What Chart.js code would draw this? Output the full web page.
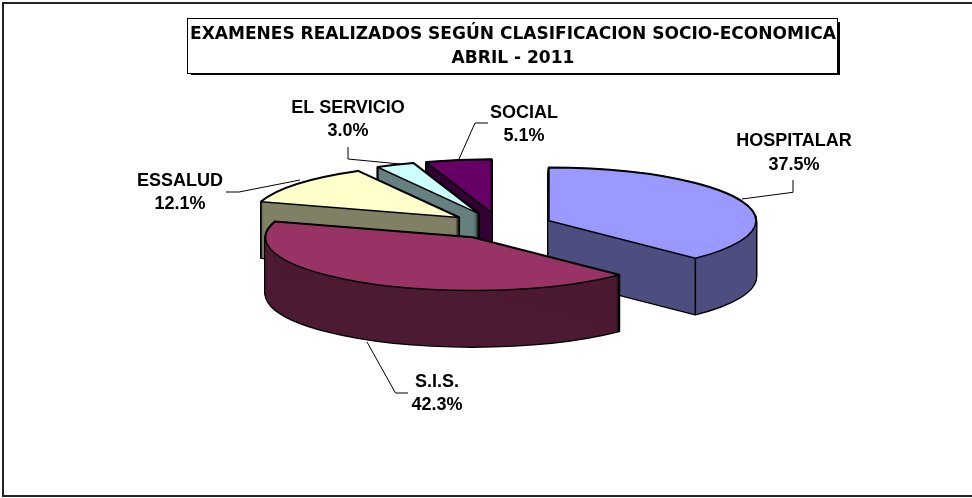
<!DOCTYPE html>
<html><head><meta charset="utf-8">
<style>html,body{margin:0;padding:0;background:#fff}#w{width:972px;height:498px;position:relative}canvas{display:block}</style>
<script src="https://cdn.jsdelivr.net/npm/chart.js@4"></script></head>
<body><div id="w"><canvas id="c" width="972" height="498"></canvas></div>
<script>
const categories = ['HOSPITALAR','S.I.S.','ESSALUD','EL SERVICIO','SOCIAL'];
const values = [37.5,42.3,12.1,3.0,5.1];
const topColors = ['#9999FF','#993366','#FFFFCC','#CCFFFF','#660066'];
const sideColors = ['#4D4D80','#4D1A33','#808066','#668080','#330033'];
const titleLines = ['EXAMENES REALIZADOS SEGÚN CLASIFICACION SOCIO-ECONOMICA','ABRIL - 2011'];
const drawOrder = [4,3,2,0,1];
const labelLayout = [
 {x:794,y:141.5,line:[[742,199],[793,192.3],[793,180]]},
 {x:437,y:382,line:[[367,342],[395.5,393],[408,393]]},
 {x:180,y:181,line:[[226,192],[239,192],[300,180]]},
 {x:348,y:108,line:[[348,147],[348,159],[400,164]]},
 {x:524,y:113,line:[[488,123],[475,123],[459,159]]}
];
const SQUASH=0.256, DEPTH=56.5, EXPLODE=53;
function place(ctx,arc,dy){
  const mid=(arc.startAngle+arc.endAngle)/2;
  ctx.translate(arc.x,arc.y+dy);
  ctx.scale(1,SQUASH);
  ctx.translate(-arc.x,-arc.y);
  ctx.translate(Math.cos(mid)*EXPLODE,Math.sin(mid)*EXPLODE);
}
function tracePath(ctx,arc,dy){
  ctx.save();place(ctx,arc,dy);
  ctx.beginPath();ctx.moveTo(arc.x,arc.y);
  ctx.arc(arc.x,arc.y,arc.outerRadius,arc.startAngle,arc.endAngle);
  ctx.closePath();ctx.restore();
}
function fillWith(ctx,arc,dy,color){
  const o=arc.options,t=Object.create(o);
  Object.defineProperty(t,'backgroundColor',{value:color});
  Object.defineProperty(t,'borderWidth',{value:0});
  arc.options=t;
  ctx.save();place(ctx,arc,dy);arc.draw(ctx);ctx.restore();
  arc.options=o;
}
const pie3d={id:'pie3d',
 beforeDraw(chart){
  const ctx=chart.ctx;
  ctx.save();
  ctx.fillStyle='#fff';ctx.fillRect(0,0,972,498);
  ctx.fillStyle='#222';
  ctx.fillRect(2,2,970,2);ctx.fillRect(2,2,2,495);ctx.fillRect(2,495,970,2);
  ctx.strokeStyle='#000';ctx.lineWidth=1;
  ctx.fillStyle='#000';ctx.fillRect(191,22,649,53);
  ctx.fillStyle='#fff';ctx.fillRect(187.5,18.5,650,55);
  ctx.strokeRect(187.5,18.5,650,55);
  ctx.fillStyle='#000';ctx.textAlign='center';ctx.textBaseline='middle';
  ctx.font='bold 17.5px "DejaVu Sans"';
  const w=ctx.measureText(titleLines[0]).width, sx=646/w;
  ctx.translate(513,0);ctx.scale(sx,1);
  ctx.fillText(titleLines[0],0,34);
  ctx.fillText(titleLines[1],0,58);
  ctx.restore();
 },
 beforeDatasetDraw(chart,args){
  const ctx=chart.ctx,arcs=args.meta.data;
  drawOrder.forEach(i=>{
   const arc=arcs[i];
   ctx.save();
   ctx.strokeStyle='#000';ctx.lineWidth=2.6;ctx.lineJoin='round';
   for(let d=0;d<=DEPTH;d+=1){tracePath(ctx,arc,d);ctx.stroke();}
   for(let d=0;d<=DEPTH;d+=1){fillWith(ctx,arc,d,sideColors[i]);}
   fillWith(ctx,arc,0,topColors[i]);
   ctx.lineWidth=1.5;tracePath(ctx,arc,0);ctx.stroke();
   const mid=(arc.startAngle+arc.endAngle)/2;
   [arc.startAngle,arc.endAngle].forEach(a=>{
    if(Math.sin(a)>0.01){
     const px=arc.x+Math.cos(mid)*EXPLODE+Math.cos(a)*arc.outerRadius;
     const py=arc.y+SQUASH*(Math.sin(mid)*EXPLODE+Math.sin(a)*arc.outerRadius);
     ctx.beginPath();ctx.moveTo(px,py);ctx.lineTo(px,py+DEPTH);ctx.stroke();
    }
   });
   ctx.restore();
  });
  return false;
 },
 afterDraw(chart){
  const ctx=chart.ctx,total=values.reduce((a,b)=>a+b,0);
  ctx.save();
  ctx.strokeStyle='#000';ctx.lineWidth=1;
  labelLayout.forEach((l,i)=>{
   ctx.beginPath();l.line.forEach((p,k)=>k?ctx.lineTo(p[0],p[1]):ctx.moveTo(p[0],p[1]));ctx.stroke();
   ctx.fillStyle='#000';ctx.textAlign='center';ctx.textBaseline='middle';
   ctx.font='bold 18px "Liberation Sans"';
   ctx.fillText(categories[i],l.x,l.y);
   ctx.fillText((values[i]/total*100).toFixed(1)+'%',l.x,l.y+23.5);
  });
  ctx.restore();
 }
};
new Chart(document.getElementById('c'),{
 type:'pie',
 data:{labels:categories,datasets:[{data:values,backgroundColor:topColors,borderWidth:0}]},
 plugins:[pie3d],
 options:{responsive:false,animation:false,radius:207,
  layout:{padding:{left:28,right:0,top:0,bottom:46}},
  plugins:{legend:{display:false},tooltip:{enabled:false},title:{display:false}}}
});
</script></body></html>
